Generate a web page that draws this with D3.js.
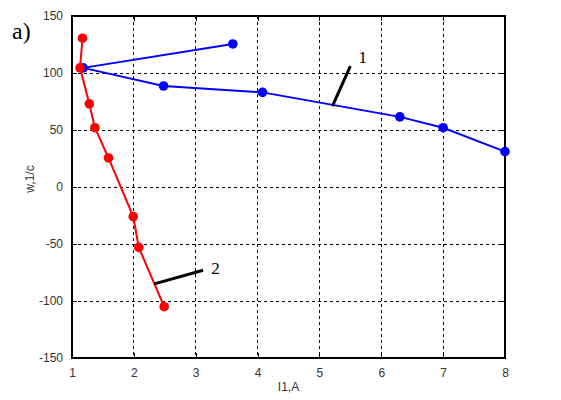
<html>
<head>
<meta charset="utf-8">
<script src="https://d3js.org/d3.v7.min.js"></script>
<style>
body { margin: 0; background: #fff; }
</style>
</head>
<body>
<div id="chart"></div>
<script>
// data
var blueX = [3.6, 1.18, 2.48, 4.08, 6.3, 7.0, 8.0];
var blueY = [125.5, 104.5, 88.6, 83, 61.5, 52, 31];
var redX = [1.17, 1.13, 1.28, 1.37, 1.59, 1.99, 2.08, 2.49];
var redY = [130.5, 104.5, 73, 52, 25.5, -26, -53, -105];
var xTicks = [1, 2, 3, 4, 5, 6, 7, 8];
var yTicks = [-150, -100, -50, 0, 50, 100, 150];
// callout leaders: [x1, y1, x2, y2] in data units, and label positions
var leader1 = [5.21, 71, 5.5, 106];
var leader2 = [2.33, -85, 3.12, -73];
var label1 = [5.63, 114, "1"];
var label2 = [3.25, -71, "2"];

var W = 561, H = 400;
var margin = {top: 16, right: 56, bottom: 42, left: 72};
var width = W - margin.left - margin.right;
var height = H - margin.top - margin.bottom;

var svg = d3.select("#chart").append("svg")
    .attr("width", W)
    .attr("height", H);

var g = svg.append("g")
    .attr("transform", "translate(" + margin.left + "," + margin.top + ")");

var x = d3.scaleLinear().domain([1, 8]).range([0, width]);
var y = d3.scaleLinear().domain([-150, 150]).range([height, 0]);

// plain hyphen minus like the original
var fmt = function(d) { return String(d); };

// grid
g.selectAll(".gx").data(xTicks.slice(1, -1)).enter().append("line")
    .attr("x1", function(d) { return x(d); }).attr("x2", function(d) { return x(d); })
    .attr("y1", 0).attr("y2", height)
    .attr("stroke", "#000").attr("stroke-width", 1).attr("stroke-dasharray", "3,3")
    .attr("shape-rendering", "crispEdges");
g.selectAll(".gy").data(yTicks.slice(1, -1)).enter().append("line")
    .attr("x1", 0).attr("x2", width)
    .attr("y1", function(d) { return y(d); }).attr("y2", function(d) { return y(d); })
    .attr("stroke", "#000").attr("stroke-width", 1).attr("stroke-dasharray", "3,3")
    .attr("shape-rendering", "crispEdges");

// axes with inward ticks
var font = "Arial, 'Liberation Sans', sans-serif";
g.append("g").attr("transform", "translate(0," + height + ")")
    .call(d3.axisBottom(x).tickValues(xTicks).tickFormat(fmt).tickSizeInner(-5).tickSizeOuter(0).tickPadding(10));
g.append("g")
    .call(d3.axisLeft(y).tickValues(yTicks).tickFormat(fmt).tickSizeInner(-5).tickSizeOuter(0).tickPadding(9));
g.append("g").attr("transform", "translate(0,0)")
    .call(d3.axisTop(x).tickValues(xTicks).tickSizeInner(-5).tickSizeOuter(0).tickFormat(""));
g.append("g").attr("transform", "translate(" + width + ",0)")
    .call(d3.axisRight(y).tickValues(yTicks).tickSizeInner(-5).tickSizeOuter(0).tickFormat(""));
g.selectAll(".domain").remove();
g.selectAll(".tick line").attr("stroke", "#000").attr("shape-rendering", "crispEdges");
g.selectAll(".tick text").style("font-family", font).style("font-size", "12px").attr("fill", "#333");

g.append("rect")
    .attr("x", 0).attr("y", 0).attr("width", width).attr("height", height)
    .attr("fill", "none").attr("stroke", "#000").attr("stroke-width", 1.3)
    .attr("shape-rendering", "crispEdges");

// series
function drawSeries(xs, ys, color) {
    var pts = xs.map(function(v, i) { return [v, ys[i]]; });
    var line = d3.line()
        .x(function(d) { return x(d[0]); })
        .y(function(d) { return y(d[1]); });
    g.append("path").datum(pts)
        .attr("fill", "none").attr("stroke", color).attr("stroke-width", 2)
        .attr("d", line);
    g.selectAll(null).data(pts).enter().append("circle")
        .attr("cx", function(d) { return x(d[0]); })
        .attr("cy", function(d) { return y(d[1]); })
        .attr("r", 4.8)
        .attr("fill", color);
}
drawSeries(blueX, blueY, "#0000ff");
drawSeries(redX, redY, "#ff0000");

// callouts
[leader1, leader2].forEach(function(l) {
    g.append("line")
        .attr("x1", x(l[0])).attr("y1", y(l[1]))
        .attr("x2", x(l[2])).attr("y2", y(l[3]))
        .attr("stroke", "#000").attr("stroke-width", 3);
});
[label1, label2].forEach(function(l) {
    g.append("text")
        .attr("x", x(l[0])).attr("y", y(l[1]))
        .attr("dy", "0.35em")
        .style("font-family", "'Liberation Serif', 'Times New Roman', serif")
        .style("font-size", "17px")
        .text(l[2]);
});

// labels
svg.append("text")
    .attr("x", margin.left + width / 2).attr("y", 391)
    .attr("text-anchor", "middle")
    .style("font-family", font).style("font-size", "12px").attr("fill", "#333")
    .text("I1,A");
svg.append("text")
    .attr("transform", "translate(34,179) rotate(-90)")
    .attr("text-anchor", "middle")
    .style("font-family", font).style("font-size", "12px").attr("fill", "#333")
    .text("w,1/c");
svg.append("text")
    .attr("x", 12).attr("y", 39)
    .style("font-family", "'Liberation Serif', 'Times New Roman', serif")
    .style("font-size", "24px")
    .text("a)");
</script>
</body>
</html>
